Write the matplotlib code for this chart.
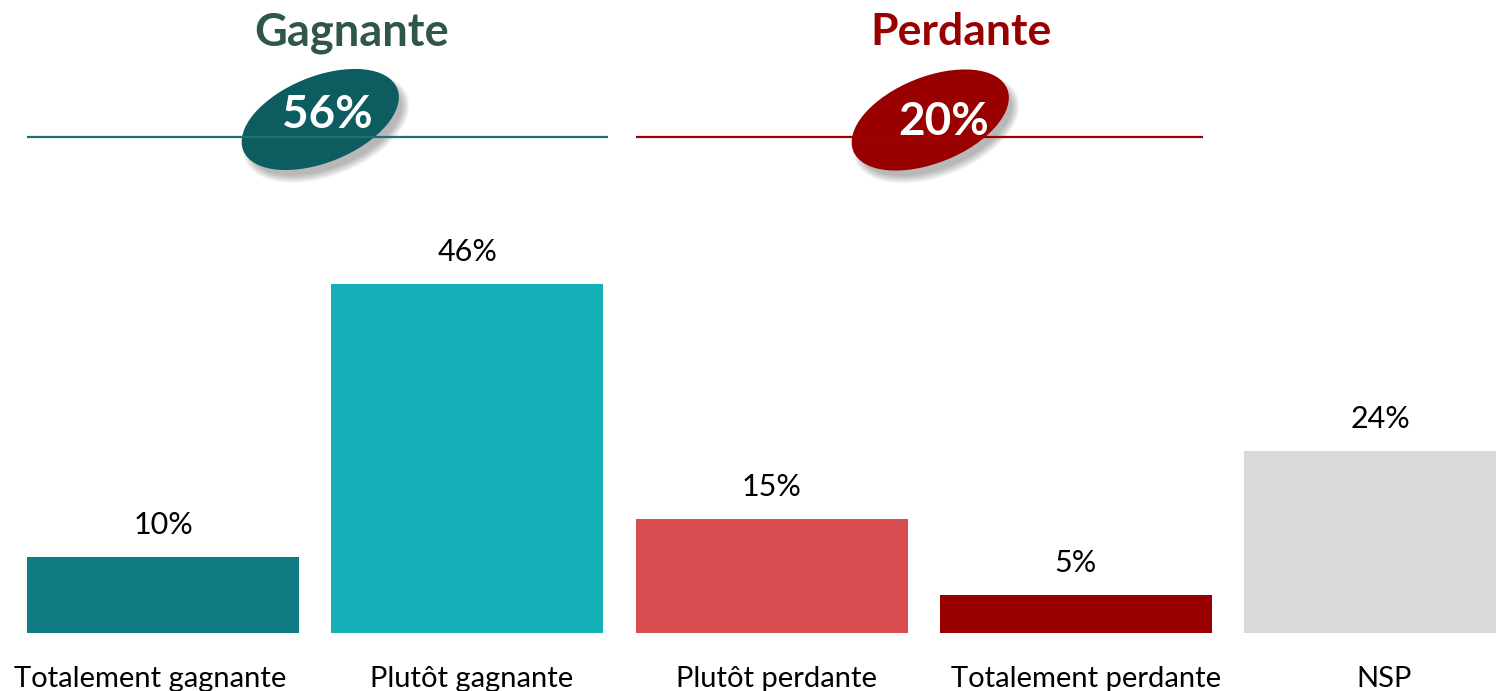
import matplotlib
matplotlib.use("Agg")
import matplotlib.pyplot as plt
from matplotlib.patches import Ellipse

categories = ["Totalement gagnante", "Plutôt gagnante", "Plutôt perdante", "Totalement perdante", "NSP"]
values = [10, 46, 15, 5, 24]
bar_colors = ["#107B83", "#14B0B8", "#D94F51", "#990000", "#D9D9D9"]
group_names = ["Gagnante", "Perdante"]
group_totals = [56, 20]
group_members = [(0, 1), (2, 3)]
group_text_colors = ["#2E5748", "#990000"]
group_line_colors = ["#1F6F73", "#A00000"]
group_ellipse_colors = ["#0D5C5F", "#990000"]

plt.rcParams['font.family'] = ['Lato', 'DejaVu Sans']

W, H = 1496, 691
DPI = 100
PT = 72 / DPI  # points per pixel
fig = plt.figure(figsize=(W / DPI, H / DPI), dpi=DPI)

# bar axes (pixel geometry)
left_px, right_px, base_px, top_px = 11, 1496, 633, 200
ax = fig.add_axes([left_px / W, (H - base_px) / H, (right_px - left_px) / W, (base_px - top_px) / H])
step = 304.25
ax.set_xlim(-0.5, -0.5 + (right_px - left_px) / step)
ax.set_ylim(0, (base_px - top_px) / 7.58)
x = list(range(len(categories)))
ax.bar(x, values, width=272 / step, color=bar_colors)
label_dx = [-13, 4, 5, 10, 4]
for xi, v, cat, dx in zip(x, values, categories, label_dx):
    ax.annotate(f"{v}%", xy=(xi, v), xytext=(0, 23 * PT), textcoords="offset points",
                ha="center", va="baseline", fontsize=22, color="#000000")
    ax.annotate(cat, xy=(xi, 0), xytext=(dx * PT, -54 * PT), textcoords="offset points",
                ha="center", va="baseline", fontsize=21, color="#000000",
                annotation_clip=False)
ax.set_xticks([])
ax.set_yticks([])
for s in ax.spines.values():
    s.set_visible(False)

# overlay axes in pixel coordinates for the headers
ov = fig.add_axes([0, 0, 1, 1])
ov.set_xlim(0, W)
ov.set_ylim(0, H)
ov.axis("off")

def px(xd):
    return ax.transData.transform((xd, 0))[0]

hw = 136 / step
line_y = H - 137
title_dx = [33.5, 41.5]
title_size = [32.5, 32]
ell_dx = [2.5, 11]
ell_dy = [17.5, 17]
num_dx = [9.5, 15]
num_base = [H - 128, H - 135]
for gi, (name, tot) in enumerate(zip(group_names, group_totals)):
    a, b = group_members[gi]
    x0 = px(a - hw)
    x1 = px(b + hw) + (5 if gi == 0 else -9)
    ov.plot([x0, x1], [line_y, line_y], color=group_line_colors[gi], lw=1.6, solid_capstyle="butt")
    cx = (x0 + x1) / 2
    ov.text(cx + title_dx[gi], H - 45, name, ha="center", va="baseline",
            fontsize=title_size[gi], fontweight="bold", color=group_text_colors[gi])
    ex = cx + ell_dx[gi]
    ey = line_y + ell_dy[gi]
    # soft shadow
    for k in range(7):
        ov.add_patch(Ellipse((ex + 6, ey - 8), 160 + k * 2.5, 81 + k * 2.5, angle=22,
                             facecolor="#000000", alpha=0.045, edgecolor="none"))
    ov.add_patch(Ellipse((ex, ey), 166, 86, angle=22, facecolor=group_ellipse_colors[gi], edgecolor="none"))
    ov.text(ex + num_dx[gi] - 2, num_base[gi], f"{tot}%", ha="center", va="baseline", fontsize=33,
            fontweight="bold", color="white")

fig.savefig("out.png", dpi=DPI)
